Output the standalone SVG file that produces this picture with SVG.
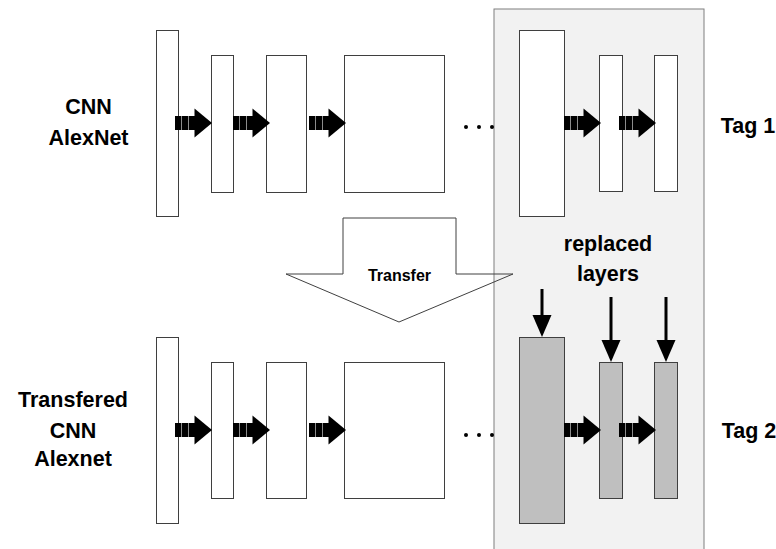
<svg xmlns="http://www.w3.org/2000/svg" xmlns:xlink="http://www.w3.org/1999/xlink" width="776" height="549" viewBox="0 0 776 549">
  <style>
    .layer { fill: #ffffff; stroke: #3f3f3f; stroke-width: 1; }
    .layer-new { fill: #bfbfbf; stroke: #3f3f3f; stroke-width: 1; }
    .label { font-family: "Liberation Sans", Arial, sans-serif; font-weight: bold; font-size: 21.5px; fill: #000000; text-anchor: middle; }
    .small { font-size: 16px; }
    .panel { fill: #f2f2f2; stroke: #7f7f7f; stroke-width: 1; }
    .big-arrow-fill { fill: #ffffff; stroke: none; }
    .big-arrow-line { fill: none; stroke: #404040; stroke-width: 1; }
    .down { stroke: #000000; stroke-width: 3; fill: none; }
    .dot { fill: #000000; }
  </style>
  <defs>
    <!-- striped block arrow, tip at origin -->
    <g id="flow">
      <rect x="-37" y="-7" width="20" height="14" fill="#000000"/>
      <line x1="-30.5" y1="-7" x2="-30.5" y2="7" stroke="#8c8c8c" stroke-width="1"/>
      <line x1="-23.5" y1="-7" x2="-23.5" y2="7" stroke="#8c8c8c" stroke-width="1"/>
      <polygon points="-17.5,-14.5 0,0 -17.5,14.5" fill="#000000"/>
    </g>
    <!-- downward pointer, tip at origin -->
    <polygon id="downHead" points="-9.5,-22 9.5,-22 0,0" fill="#000000"/>
  </defs>

  <!-- transfer arrow: white body under the panel -->
  <polygon class="big-arrow-fill" points="343,218 456,218 456,274 513,274 399,322 286,274 343,274"/>

  <!-- shaded region holding the replaced layers -->
  <rect id="panel" class="panel" x="494" y="9" width="210" height="550"/>

  <!-- transfer arrow outline on top -->
  <g id="transfer">
    <polygon class="big-arrow-line" points="343,218 456,218 456,274 513,274 399,322 286,274 343,274"/>
    <text class="label small" x="399.5" y="281">Transfer</text>
  </g>

  <!-- row labels -->
  <g id="label-cnn">
    <text class="label" x="88.5" y="114">CNN</text>
    <text class="label" x="88.5" y="145">AlexNet</text>
  </g>
  <g id="label-transfered">
    <text class="label" x="73" y="407">Transfered</text>
    <text class="label" x="73" y="438">CNN</text>
    <text class="label" x="73" y="466">Alexnet</text>
  </g>
  <g id="tag1"><text class="label" x="748" y="133">Tag 1</text></g>
  <g id="tag2"><text class="label" x="749" y="438">Tag 2</text></g>
  <g id="replaced-label">
    <text class="label" x="608" y="251">replaced</text>
    <text class="label" x="608" y="281">layers</text>
  </g>

  <!-- original network layers -->
  <g id="cnn-layers">
    <rect id="a1" class="layer" x="156.5" y="30.5" width="22" height="186"/>
    <rect id="a2" class="layer" x="211.5" y="55.5" width="22" height="137"/>
    <rect id="a3" class="layer" x="266.5" y="55.5" width="40" height="137"/>
    <rect id="a4" class="layer" x="344.5" y="55.5" width="100" height="137"/>
    <rect id="a5" class="layer" x="519.5" y="30.5" width="45" height="186"/>
    <rect id="a6" class="layer" x="599.5" y="55.5" width="23" height="136"/>
    <rect id="a7" class="layer" x="654.5" y="55.5" width="23" height="136"/>
  </g>

  <!-- transferred network layers -->
  <g id="transfered-layers">
    <rect id="b1" class="layer" x="156.5" y="337.5" width="22" height="186"/>
    <rect id="b2" class="layer" x="211.5" y="362.5" width="22" height="136"/>
    <rect id="b3" class="layer" x="266.5" y="362.5" width="40" height="136"/>
    <rect id="b4" class="layer" x="344.5" y="362.5" width="100" height="136"/>
    <rect id="b5" class="layer-new" x="519.5" y="337.5" width="45" height="186"/>
    <rect id="b6" class="layer-new" x="599.5" y="362.5" width="23" height="136"/>
    <rect id="b7" class="layer-new" x="654.5" y="362.5" width="23" height="136"/>
  </g>

  <!-- ellipses between the layer stacks -->
  <g id="ellipses">
    <circle class="dot" cx="466" cy="127" r="2"/>
    <circle class="dot" cx="479" cy="127" r="2"/>
    <circle class="dot" cx="492" cy="127" r="2"/>
    <circle class="dot" cx="466" cy="435" r="2"/>
    <circle class="dot" cx="479" cy="435" r="2"/>
    <circle class="dot" cx="492" cy="435" r="2"/>
  </g>

  <!-- connectors -->
  <g id="connectors">
    <use xlink:href="#flow" x="212" y="123"/>
    <use xlink:href="#flow" x="270" y="123"/>
    <use xlink:href="#flow" x="346" y="123"/>
    <use xlink:href="#flow" x="601" y="123"/>
    <use xlink:href="#flow" x="656" y="123"/>

    <use xlink:href="#flow" x="212" y="430"/>
    <use xlink:href="#flow" x="270" y="430"/>
    <use xlink:href="#flow" x="346" y="430"/>
    <use xlink:href="#flow" x="601" y="430"/>
    <use xlink:href="#flow" x="656" y="430"/>

    <line class="down" x1="542" y1="289" x2="542" y2="317"/>
    <use xlink:href="#downHead" x="542" y="337"/>
    <line class="down" x1="611" y1="297" x2="611" y2="342"/>
    <use xlink:href="#downHead" x="611" y="362"/>
    <line class="down" x1="666" y1="297" x2="666" y2="342"/>
    <use xlink:href="#downHead" x="666" y="362"/>
  </g>
</svg>
